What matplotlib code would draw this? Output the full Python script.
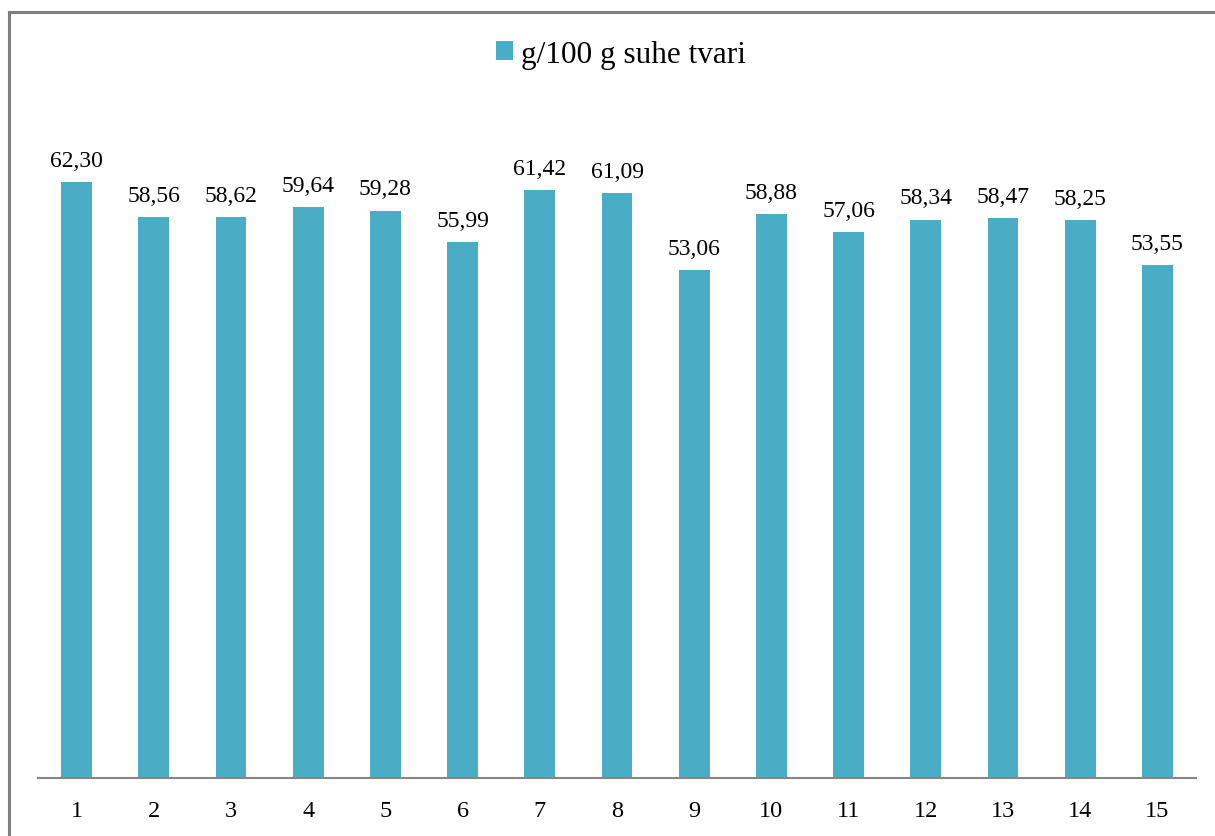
import matplotlib.pyplot as plt
from matplotlib.lines import Line2D

# Datos del gráfico
kategorije = [str(i) for i in range(1, 16)]
vrijednosti = [62.30, 58.56, 58.62, 59.64, 59.28, 55.99, 61.42, 61.09,
               53.06, 58.88, 57.06, 58.34, 58.47, 58.25, 53.55]
naziv_serije = 'g/100 g suhe tvari'

plt.rcParams['font.family'] = ['Liberation Serif', 'DejaVu Serif']

fig = plt.figure(figsize=(12.15, 8.37), dpi=100)
ax = fig.add_axes([38 / 1215, 1 - 779 / 837, (1196 - 38) / 1215, 670 / 837])

pozicije = range(len(kategorije))
stupci = ax.bar(pozicije, vrijednosti, width=0.4, color='#4BACC6',
                label=naziv_serije)

# Oznake vrijednosti iznad stupaca (decimalni zarez)
for x, v in zip(pozicije, vrijednosti):
    ax.annotate(f'{v:.2f}'.replace('.', ','), (x, v), xytext=(0, 8),
                textcoords='offset points', ha='center', va='bottom',
                fontsize=17)

ax.set_xlim(-0.5, len(kategorije) - 0.5)
ax.set_ylim(0, 70)
ax.set_xticks(list(pozicije))
ax.set_xticklabels(kategorije, fontsize=17.5)
ax.tick_params(axis='x', length=0, pad=16)
ax.set_yticks([])
for s in ['left', 'right', 'top']:
    ax.spines[s].set_visible(False)
ax.spines['bottom'].set_color('#868686')
ax.spines['bottom'].set_linewidth(1.5)

fig.legend(handles=[stupci], labels=[naziv_serije], loc='center',
           bbox_to_anchor=(621 / 1215, 1 - 55 / 837), frameon=False,
           fontsize=22.5, handlelength=0.55, handleheight=0.55,
           handletextpad=0.25)

# Okvir grafikona (lijevo i gore)
fig.add_artist(Line2D([9 / 1215, 9 / 1215], [0, 1 - 13 / 837],
                      color='#7f7f7f', linewidth=2.2, transform=fig.transFigure))
fig.add_artist(Line2D([9 / 1215, 1], [1 - 13 / 837, 1 - 13 / 837],
                      color='#7f7f7f', linewidth=2.2, transform=fig.transFigure))

fig.savefig('out.png', dpi=100)
